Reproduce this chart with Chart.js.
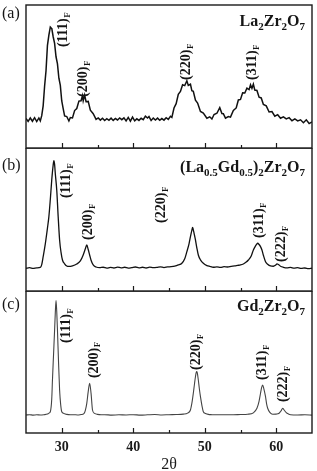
<!DOCTYPE html>
<html>
<head>
<meta charset="utf-8">
<script src="https://cdn.jsdelivr.net/npm/chart.js@4.4.1/dist/chart.umd.min.js"></script>
<style>
  html, body { margin: 0; padding: 0; background: #fff; }
  #wrap { position: relative; width: 317px; height: 471px; overflow: hidden; }
  canvas { position: absolute; left: 0; }
</style>
</head>
<body>
<div id="wrap">
  <canvas id="chartA" width="317" height="150" style="top:0px"></canvas>
  <canvas id="chartB" width="317" height="145" style="top:148px"></canvas>
  <canvas id="chartC" width="317" height="180" style="top:291px"></canvas>
</div>
<script>
// ---- data (2theta in degrees, intensity in a.u., 0-100 per panel) ----
const tickLabels = [30, 40, 50, 60];
const minorTicks = [35, 45, 55];

// (a) La2Zr2O7  (noisy pattern)
const twoThetaA = [25.0,25.3,25.6,25.9,26.2,26.5,26.8,27.0,27.2,27.4,27.6,27.8,28.0,28.2,28.4,28.5,28.6,28.8,29.0,29.2,
  29.4,29.6,29.8,30.0,30.2,30.4,30.7,31.0,31.2,31.5,31.8,32.1,32.4,32.7,32.9,33.0,33.2,33.4,33.7,34.0,
  34.4,34.8,35.1,35.4,35.7,36.0,36.3,36.6,36.9,37.2,37.5,37.8,38.1,38.4,38.7,39.0,39.3,39.6,39.9,40.2,
  40.5,40.8,41.1,41.4,41.7,42.0,42.2,42.5,42.8,43.1,43.4,43.7,44.0,44.3,44.6,44.9,45.2,45.4,45.7,46.0,
  46.3,46.6,46.9,47.2,47.5,47.7,48.0,48.2,48.4,48.7,49.0,49.4,49.8,50.3,50.7,51.0,51.3,51.7,52.1,52.4,
  52.6,52.9,53.3,53.6,54.0,54.4,54.7,55.0,55.3,55.6,55.9,56.2,56.4,56.6,56.8,57.0,57.3,57.6,57.9,58.2,
  58.6,59.0,59.4,59.8,60.2,60.6,61.0,61.4,61.8,62.2,62.6,63.0,63.4,63.8,64.2,64.6,65.0];
const intensityA = [20.6,18.6,21.0,18.7,21.2,18.5,21.0,19.0,22.6,29.5,43.2,54.0,71.8,79.0,84.5,84.0,83.8,77.8,73.2,63.8,
  58.8,48.8,43.8,32.9,27.6,22.4,22.0,18.9,21.3,21.0,26.2,27.6,32.8,33.0,36.6,33.0,37.0,32.4,32.6,26.4,
  24.0,20.0,21.0,19.5,20.8,19.2,20.5,19.4,20.9,19.3,20.6,19.6,21.0,19.8,21.1,18.9,21.4,18.8,21.6,19.0,
  20.4,19.3,20.8,19.8,22.3,21.0,22.0,19.2,20.9,19.6,20.9,19.4,20.6,19.5,21.2,20.0,22.2,21.4,28.0,31.0,
  37.6,39.5,44.2,43.6,47.0,43.8,44.6,40.0,39.6,33.4,31.4,25.6,24.4,20.8,21.8,20.3,23.4,24.3,28.2,24.1,
  24.0,20.9,22.0,21.6,26.2,28.0,33.6,34.0,38.6,38.5,41.8,40.8,44.2,41.7,44.6,40.5,40.2,35.5,35.0,30.5,
  29.5,25.2,25.5,22.2,23.3,20.8,21.8,20.3,21.2,19.1,20.3,18.9,19.7,17.7,19.7,17.1,18.2];

// (b) (La0.5Gd0.5)2Zr2O7
const twoThetaB = [25.0,25.5,26.0,26.5,27.0,27.2,27.4,27.7,28.0,28.2,28.4,28.6,28.8,28.9,29.0,29.1,29.3,29.5,29.7,29.9,
  30.1,30.4,30.7,31.0,31.5,32.1,32.6,33.0,33.3,33.5,33.7,33.9,34.1,34.4,34.8,35.3,35.8,36.3,36.8,37.3,
  37.8,38.3,38.8,39.3,39.8,40.3,40.8,41.3,41.8,42.3,42.8,43.3,43.8,44.3,44.8,45.3,45.8,46.3,46.8,47.2,
  47.5,47.8,48.0,48.2,48.3,48.4,48.5,48.7,48.9,49.1,49.4,49.8,50.3,50.7,51.2,51.7,52.2,52.7,53.2,53.7,
  54.2,54.6,55.0,55.4,55.8,56.1,56.5,56.8,57.1,57.3,57.4,57.6,57.8,58.0,58.2,58.5,58.8,59.2,59.6,59.9,
  60.1,60.3,60.6,61.0,61.5,62.0,62.5,63.0,63.5,64.0,64.5,65.0];
const intensityB = [15.9,16.3,15.8,16.2,16.5,18.5,24.0,33.0,44.0,52.0,64.0,77.6,88.0,91.1,88.5,82.0,70.6,52.0,35.7,27.0,
  21.7,19.0,17.5,17.2,17.6,18.9,21.0,25.2,29.5,32.2,29.0,25.2,21.5,18.2,16.8,16.3,16.6,16.0,16.5,16.1,
  16.7,16.2,16.6,16.0,16.4,16.8,16.2,16.6,16.1,16.7,16.3,16.5,16.9,16.4,16.8,17.0,17.4,18.2,19.4,22.5,
  27.5,33.0,38.0,42.5,44.5,42.8,40.5,35.7,30.0,25.2,21.8,19.4,17.8,17.2,16.6,16.9,16.5,17.0,16.8,17.2,
  17.5,17.9,18.2,18.9,20.2,21.7,24.5,28.7,31.5,33.0,33.4,32.5,31.0,28.7,25.0,20.5,18.7,17.5,17.3,18.0,
  18.9,18.5,17.3,16.6,16.2,16.5,16.0,16.3,15.8,16.1,15.7,15.9];

// (c) Gd2Zr2O7
const twoThetaC = [25.0,25.5,26.0,26.5,27.0,27.5,28.0,28.2,28.4,28.6,28.7,28.85,29.0,29.1,29.2,29.3,29.4,29.55,29.7,29.85,
  30.0,30.3,30.7,31.2,31.7,32.2,32.7,33.1,33.3,33.5,33.7,33.9,34.1,34.3,34.6,35.0,35.5,36.0,37.0,38.0,
  39.0,40.0,41.0,42.0,43.0,44.0,45.0,46.0,47.0,47.6,48.0,48.2,48.4,48.55,48.7,48.85,48.95,49.1,49.25,49.4,
  49.6,49.8,50.1,50.5,51.0,52.0,53.0,54.0,55.0,56.0,56.8,57.3,57.6,57.8,57.95,58.1,58.25,58.5,58.65,58.8,
  59.1,59.5,60.0,60.4,60.7,60.9,61.1,61.4,61.7,62.0,63.0,64.0,65.0];
const intensityC = [12.7,12.9,12.6,12.8,12.7,12.9,13.3,14.0,15.0,24.0,37.3,55.0,72.5,85.0,93.2,85.5,72.5,50.0,30.3,20.0,
  15.0,13.8,13.1,12.8,12.9,12.7,13.0,13.6,16.0,20.9,29.1,35.0,27.9,16.2,13.8,13.1,12.8,12.9,12.6,12.8,
  12.7,12.9,12.6,12.8,13.0,12.7,12.9,13.0,13.3,14.0,16.2,21.0,28.0,34.0,39.6,43.2,42.5,37.3,31.0,25.6,
  19.5,15.0,13.8,13.1,12.9,12.8,12.9,12.8,13.0,13.2,14.2,17.4,22.5,28.0,32.0,33.8,31.5,25.6,20.5,17.4,
  14.5,13.2,13.3,13.9,15.8,17.4,16.2,14.3,13.4,12.9,12.7,12.8,12.6];

// peak labels: text, 2theta of label centre, intensity where the label starts
const peakTextA = ['(111)', '(200)', '(220)', '(311)'];
const peakPosA = [30.2, 33.0, 47.5, 56.7];
const peakBaseA = [70.6, 35.7, 47.6, 47.6];
const peakTextB = ['(111)', '(200)', '(220)', '(311)', '(222)'];
const peakPosB = [30.7, 33.7, 44.0, 57.7, 60.7];
const peakBaseB = [65.0, 35.7, 47.6, 37.1, 20.3];
const peakTextC = ['(111)', '(200)', '(220)', '(311)', '(222)'];
const peakPosC = [30.7, 34.5, 48.9, 58.1, 61.0];
const peakBaseC = [63.4, 38.7, 44.4, 37.3, 21.8];

// formula labels [text, subscript?]
const formulaA = [['La',0],['2',1],['Zr',0],['2',1],['O',0],['7',1]];
const formulaB = [['(La',0],['0.5',1],['Gd',0],['0.5',1],[')',0],['2',1],['Zr',0],['2',1],['O',0],['7',1]];
const formulaC = [['Gd',0],['2',1],['Zr',0],['2',1],['O',0],['7',1]];

const serif = '"Liberation Serif", "Times New Roman", serif';

// Dibuja fórmula con subíndices, alineada a la derecha
const drawFormula = (ctx, parts, right, baseline, size) => {
  const sub = Math.round(size * 0.7);
  let w = 0;
  parts.forEach(p => {
    ctx.font = `bold ${p[1] ? sub : size}px ${serif}`;
    w += ctx.measureText(p[0]).width;
  });
  let x = right - w;
  ctx.textAlign = 'left';
  ctx.textBaseline = 'alphabetic';
  parts.forEach(p => {
    ctx.font = `bold ${p[1] ? sub : size}px ${serif}`;
    ctx.fillText(p[0], x, p[1] ? baseline + size * 0.25 : baseline);
    x += ctx.measureText(p[0]).width;
  });
};

// Marco, ticks hacia dentro y textos del panel
const panelPlugin = {
  id: 'panel',
  afterDraw(chart, args, opts) {
    const { ctx, chartArea: a, scales } = chart;
    const xs = scales.x, ys = scales.y;
    ctx.save();
    ctx.strokeStyle = '#1a1a1a';
    ctx.lineWidth = 1.4;
    ctx.strokeRect(a.left, a.top, a.right - a.left, a.bottom - a.top);
    ctx.lineWidth = 1.2;
    ctx.beginPath();
    tickLabels.forEach(v => {
      const px = Math.round(xs.getPixelForValue(v)) + 0.5;
      ctx.moveTo(px, a.bottom); ctx.lineTo(px, a.bottom - 5);
    });
    minorTicks.forEach(v => {
      const px = Math.round(xs.getPixelForValue(v)) + 0.5;
      ctx.moveTo(px, a.bottom); ctx.lineTo(px, a.bottom - 3);
    });
    ctx.stroke();

    ctx.fillStyle = '#151515';
    // letra del panel
    ctx.font = `16px ${serif}`;
    ctx.textAlign = 'left';
    ctx.textBaseline = 'alphabetic';
    ctx.fillText(opts.letter, 2, opts.letterY);

    drawFormula(ctx, opts.formula, 305, opts.formulaY, 16);

    // etiquetas de picos, giradas
    opts.peakText.forEach((t, i) => {
      const px = xs.getPixelForValue(opts.peakPos[i]);
      const py = ys.getPixelForValue(opts.peakBase[i]);
      ctx.save();
      ctx.translate(px, py);
      ctx.rotate(-Math.PI / 2);
      ctx.font = `bold 14px ${serif}`;
      ctx.textAlign = 'left';
      ctx.textBaseline = 'middle';
      ctx.fillText(t, 0, 0);
      const w = ctx.measureText(t).width;
      ctx.font = `bold 9px ${serif}`;
      ctx.fillText('F', w + 0.5, 4);
      ctx.restore();
    });
    ctx.restore();
  }
};

const makeChart = (id, xs, ys, color, width, smooth, panel, bottom) => {
  return new Chart(document.getElementById(id), {
    type: 'line',
    data: {
      datasets: [{
        data: xs.map((x, i) => ({ x: x, y: ys[i] })),
        borderColor: color,
        borderWidth: width,
        pointRadius: 0,
        tension: 0,
        cubicInterpolationMode: smooth ? 'monotone' : 'default',
        fill: false
      }]
    },
    options: {
      responsive: false,
      animation: false,
      layout: { padding: { left: 26, right: 5, top: panel.padTop, bottom: bottom ? 0 : 2 } },
      plugins: { legend: { display: false }, tooltip: { enabled: false }, panel: panel },
      scales: {
        x: {
          type: 'linear', min: 25, max: 65,
          display: bottom,
          grid: { display: false, drawTicks: false },
          border: { display: false },
          afterBuildTicks: s => { s.ticks = tickLabels.map(v => ({ value: v })); },
          afterFit: s => { s.height = bottom ? 38 : 0; },
          ticks: { padding: 6, color: '#1a1a1a', font: { family: serif, size: 14, weight: 'bold' } },
          title: { display: bottom, text: '2θ', color: '#1a1a1a', padding: { top: 0, bottom: -2 },
                   font: { family: serif, size: 16, lineHeight: 1 } }
        },
        y: { type: 'linear', min: 0, max: 100, display: false }
      }
    },
    plugins: [panelPlugin]
  });
};

makeChart('chartA', twoThetaA, intensityA, '#111', 1.5, false,
  { letter: '(a)', letterY: 18, formula: formulaA, formulaY: 26, padTop: 5,
    peakText: peakTextA, peakPos: peakPosA, peakBase: peakBaseA }, false);
makeChart('chartB', twoThetaB, intensityB, '#111', 1.3, true,
  { letter: '(b)', letterY: 22, formula: formulaB, formulaY: 24, padTop: 0,
    peakText: peakTextB, peakPos: peakPosB, peakBase: peakBaseB }, false);
makeChart('chartC', twoThetaC, intensityC, '#444', 1.1, true,
  { letter: '(c)', letterY: 18, formula: formulaC, formulaY: 20, padTop: 0,
    peakText: peakTextC, peakPos: peakPosC, peakBase: peakBaseC }, true);
</script>
</body>
</html>
